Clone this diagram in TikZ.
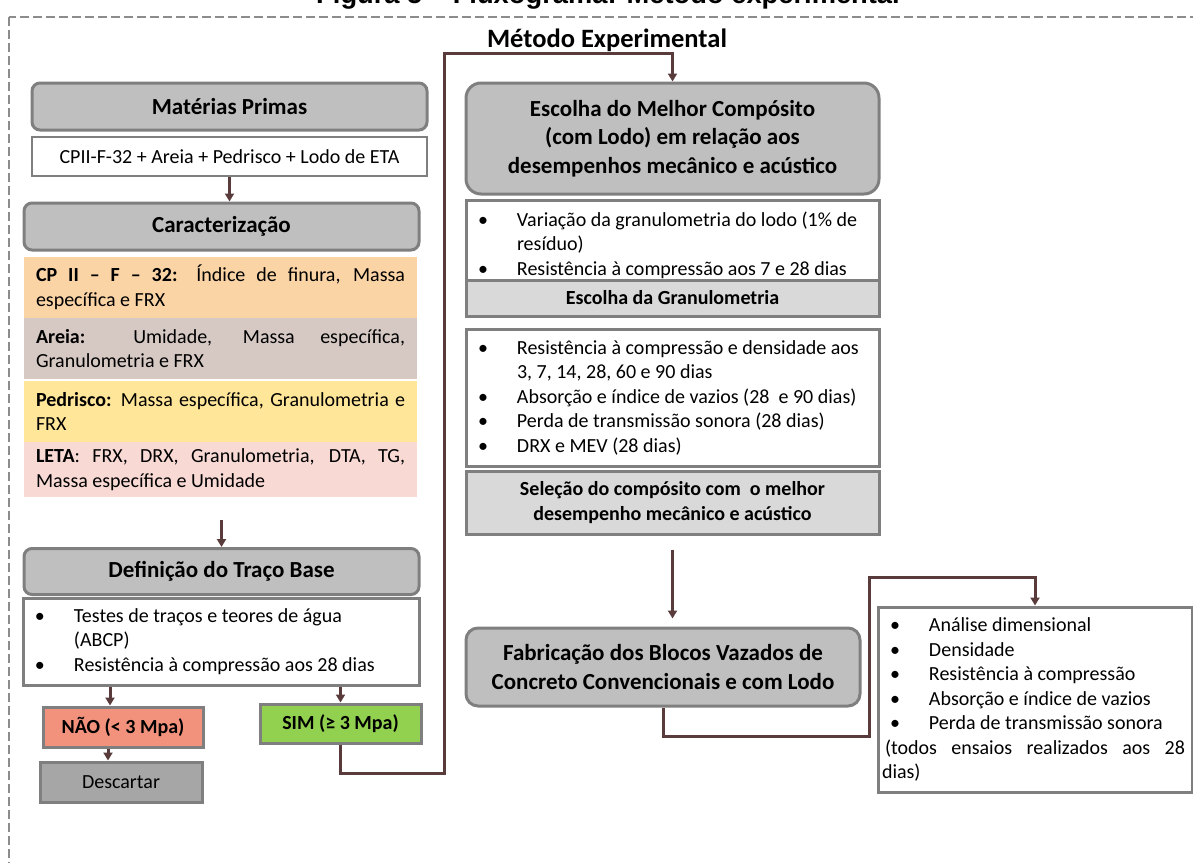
\documentclass[tikz,border=0pt]{standalone}
\usepackage{fontspec}
\setmainfont{Carlito}
\newfontfamily\figfont{Liberation Sans}
\usepackage{tikz}
\usetikzlibrary{arrows.meta}
\definecolor{colorHead}{HTML}{BFBFBF}
\definecolor{colorEdge}{HTML}{7F7F7F}
\definecolor{colorSub}{HTML}{D9D9D9}
\definecolor{colorDrop}{HTML}{A6A6A6}
\definecolor{colorNo}{HTML}{F2927C}
\definecolor{colorYes}{HTML}{92D050}
\definecolor{colorC}{HTML}{FBD4A6}
\definecolor{colorA}{HTML}{D6C9C4}
\definecolor{colorP}{HTML}{FFE699}
\definecolor{colorL}{HTML}{F8D9D4}
\definecolor{colorLink}{HTML}{5A3B3B}
\definecolor{colorFrame}{HTML}{8C8C8C}

\newcommand{\bul}{\makebox[47pt][l]{\hspace*{8pt}\textbullet}}
\newcommand{\ind}{\hspace*{47pt}}

\tikzset{
    headbox/.style={draw=colorEdge, fill=colorHead, line width=3pt, rounded corners=8pt,
        align=center, inner sep=0pt, font=\fontsize{23}{28.5}\selectfont\bfseries},
    subbox/.style={draw=colorEdge, fill=colorSub, line width=3pt, align=center,
        inner sep=0pt, font=\fontsize{20}{25}\selectfont\bfseries},
    listbox/.style={draw=colorEdge, fill=white, line width=3pt, align=flush left,
        inner xsep=4pt, inner ysep=0pt, font=\fontsize{20}{24.5}\selectfont},
    rowbox/.style={text width=369pt, inner xsep=12pt, inner ysep=0pt, align=justify,
        minimum height=61pt, font=\fontsize{20}{24.5}\selectfont},
    tagbox/.style={draw=colorEdge, line width=3pt, inner sep=0pt,
        minimum height=40pt, font=\fontsize{20}{24}\selectfont},
    link/.style={draw=colorLink, line width=3pt, -{Triangle[width=9pt,length=8pt]}},
    frame/.style={draw=colorFrame, line width=2.5pt, dash pattern=on 9pt off 4pt}
}

\begin{document}
\begin{tikzpicture}[x=1pt, y=-1pt]
    \useasboundingbox (0,0) rectangle (1193,862);
    \draw[frame] (9,17) rectangle (1210,880);
    \node[anchor=base, font=\figfont\fontsize{27.3}{30}\selectfont\bfseries] (figura) at (608,3)
        {Figura 5 – Fluxograma: Método experimental};
    \node[anchor=base, font=\fontsize{26.5}{30}\selectfont\bfseries] (metodo) at (607,47)
        {Método Experimental};

    \node[headbox, minimum width=395pt, minimum height=47pt] (materias) at (229.5,106.5) {Matérias Primas};
    \node[draw=colorEdge, fill=white, line width=2.5pt, minimum width=395pt, minimum height=39pt,
        font=\fontsize{20}{24}\selectfont] (cpii) at (229.5,156.5) {CPII-F-32 + Areia + Pedrisco + Lodo de ETA};
    \node[headbox, minimum width=395pt, minimum height=47pt] (carac) at (221.5,226.5) {Caracterização};

    \node[rowbox, fill=colorC] (rowCP) at (220.5,287.5)
        {\textbf{CP II – F – 32:} Índice de finura, Massa\linebreak específica e FRX};
    \node[rowbox, fill=colorA] (rowAreia) at (220.5,348.5)
        {\textbf{Areia:} Umidade, Massa específica,\linebreak Granulometria e FRX};
    \node[rowbox, fill=colorP] (rowPedr) at (220.5,411.5)
        {\textbf{Pedrisco:} Massa específica, Granulometria e\linebreak FRX};
    \node[rowbox, fill=colorL, minimum height=55pt] (rowLeta) at (220.5,469.5)
        {\textbf{LETA}: FRX, DRX, Granulometria, DTA, TG,\linebreak Massa específica e Umidade};

    \node[headbox, minimum width=395pt, minimum height=46pt] (definicao) at (221.5,571.5) {Definição do Traço Base};
    \node[listbox, text width=388pt, minimum height=87pt] (testes) at (221,641.5)
        {\bul Testes de traços e teores de água\\ \ind (ABCP)\\ \bul Resistência à compressão aos 28 dias};
    \node[tagbox, fill=colorNo, minimum width=160pt, font=\fontsize{20}{24}\selectfont\bfseries] (nao) at (123,727) {NÃO (< 3 Mpa)};
    \node[tagbox, fill=colorDrop, minimum width=162pt] (descartar) at (121,782) {Descartar};
    \node[tagbox, fill=colorYes, minimum width=161pt, minimum height=39pt,
        font=\fontsize{20}{24}\selectfont\bfseries] (sim) at (340.5,723.5) {SIM (≥ 3 Mpa)};

    \node[headbox, rounded corners=15pt, minimum width=413pt, minimum height=111pt] (escolha) at (672.5,138.5)
        {Escolha do Melhor Compósito\\(com Lodo) em relação aos\\desempenhos mecânico e acústico};
    \node[listbox, text width=405pt, minimum height=90pt] (varia) at (672.5,245)
        {\bul Variação da granulometria do lodo (1\% de\\ \ind resíduo)\\ \bul Resistência à compressão aos 7 e 28 dias};
    \node[subbox, minimum width=413pt, minimum height=36pt] (granul) at (672.5,298) {Escolha da Granulometria};
    \node[listbox, text width=405pt, minimum height=137pt] (resist) at (672.5,397.5)
        {\bul Resistência à compressão e densidade aos\\ \ind 3, 7, 14, 28, 60 e 90 dias\\
        \bul Absorção e índice de vazios (28~ e 90 dias)\\ \bul Perda de transmissão sonora (28 dias)\\
        \bul DRX e MEV (28 dias)};
    \node[subbox, minimum width=413pt, minimum height=63pt] (selecao) at (672.5,502.5)
        {Seleção do compósito com~ o melhor\\desempenho mecânico e acústico};
    \node[headbox, rounded corners=12pt, minimum width=394pt, minimum height=78pt] (fab) at (663,667)
        {Fabricação dos Blocos Vazados de\\Concreto Convencionais e com Lodo};
    \node[listbox, text width=306pt, minimum height=185pt] (ensaios) at (1035,699.5)
        {\bul Análise dimensional\\ \bul Densidade\\ \bul Resistência à compressão\\
        \bul Absorção e índice de vazios\\ \bul Perda de transmissão sonora\\
        \makebox[303pt][s]{\hspace*{3pt}(todos ensaios realizados aos 28}\\ dias)};

    \coordinate (loopA) at (444,773);
    \coordinate (loopB) at (444,53);
    \coordinate (loopC) at (869,736);
    \coordinate (loopD) at (869,577);

    \draw[link] (cpii.south) -- (cpii.south |- carac.north);
    \draw[link, shorten <=23pt] (rowLeta.south -| definicao.north) -- (definicao.north);
    \draw[link] ([xshift=-13pt]nao.north |- testes.south) -- ([xshift=-13pt]nao.north);
    \draw[link] ([xshift=-15pt]nao.south) -- ([xshift=-15pt]nao.south |- descartar.north);
    \draw[link] (sim.north |- testes.south) -- (sim.north);
    \draw[link] (sim.south) |- (loopA) -- (loopB) -| (escolha.north);
    \draw[link, shorten <=14pt, shorten >=8pt] (selecao.south) -- (selecao.south |- fab.north);
    \draw[link] (fab.south) |- (loopC) -- (loopD) -| (ensaios.north);
\end{tikzpicture}
\end{document}
